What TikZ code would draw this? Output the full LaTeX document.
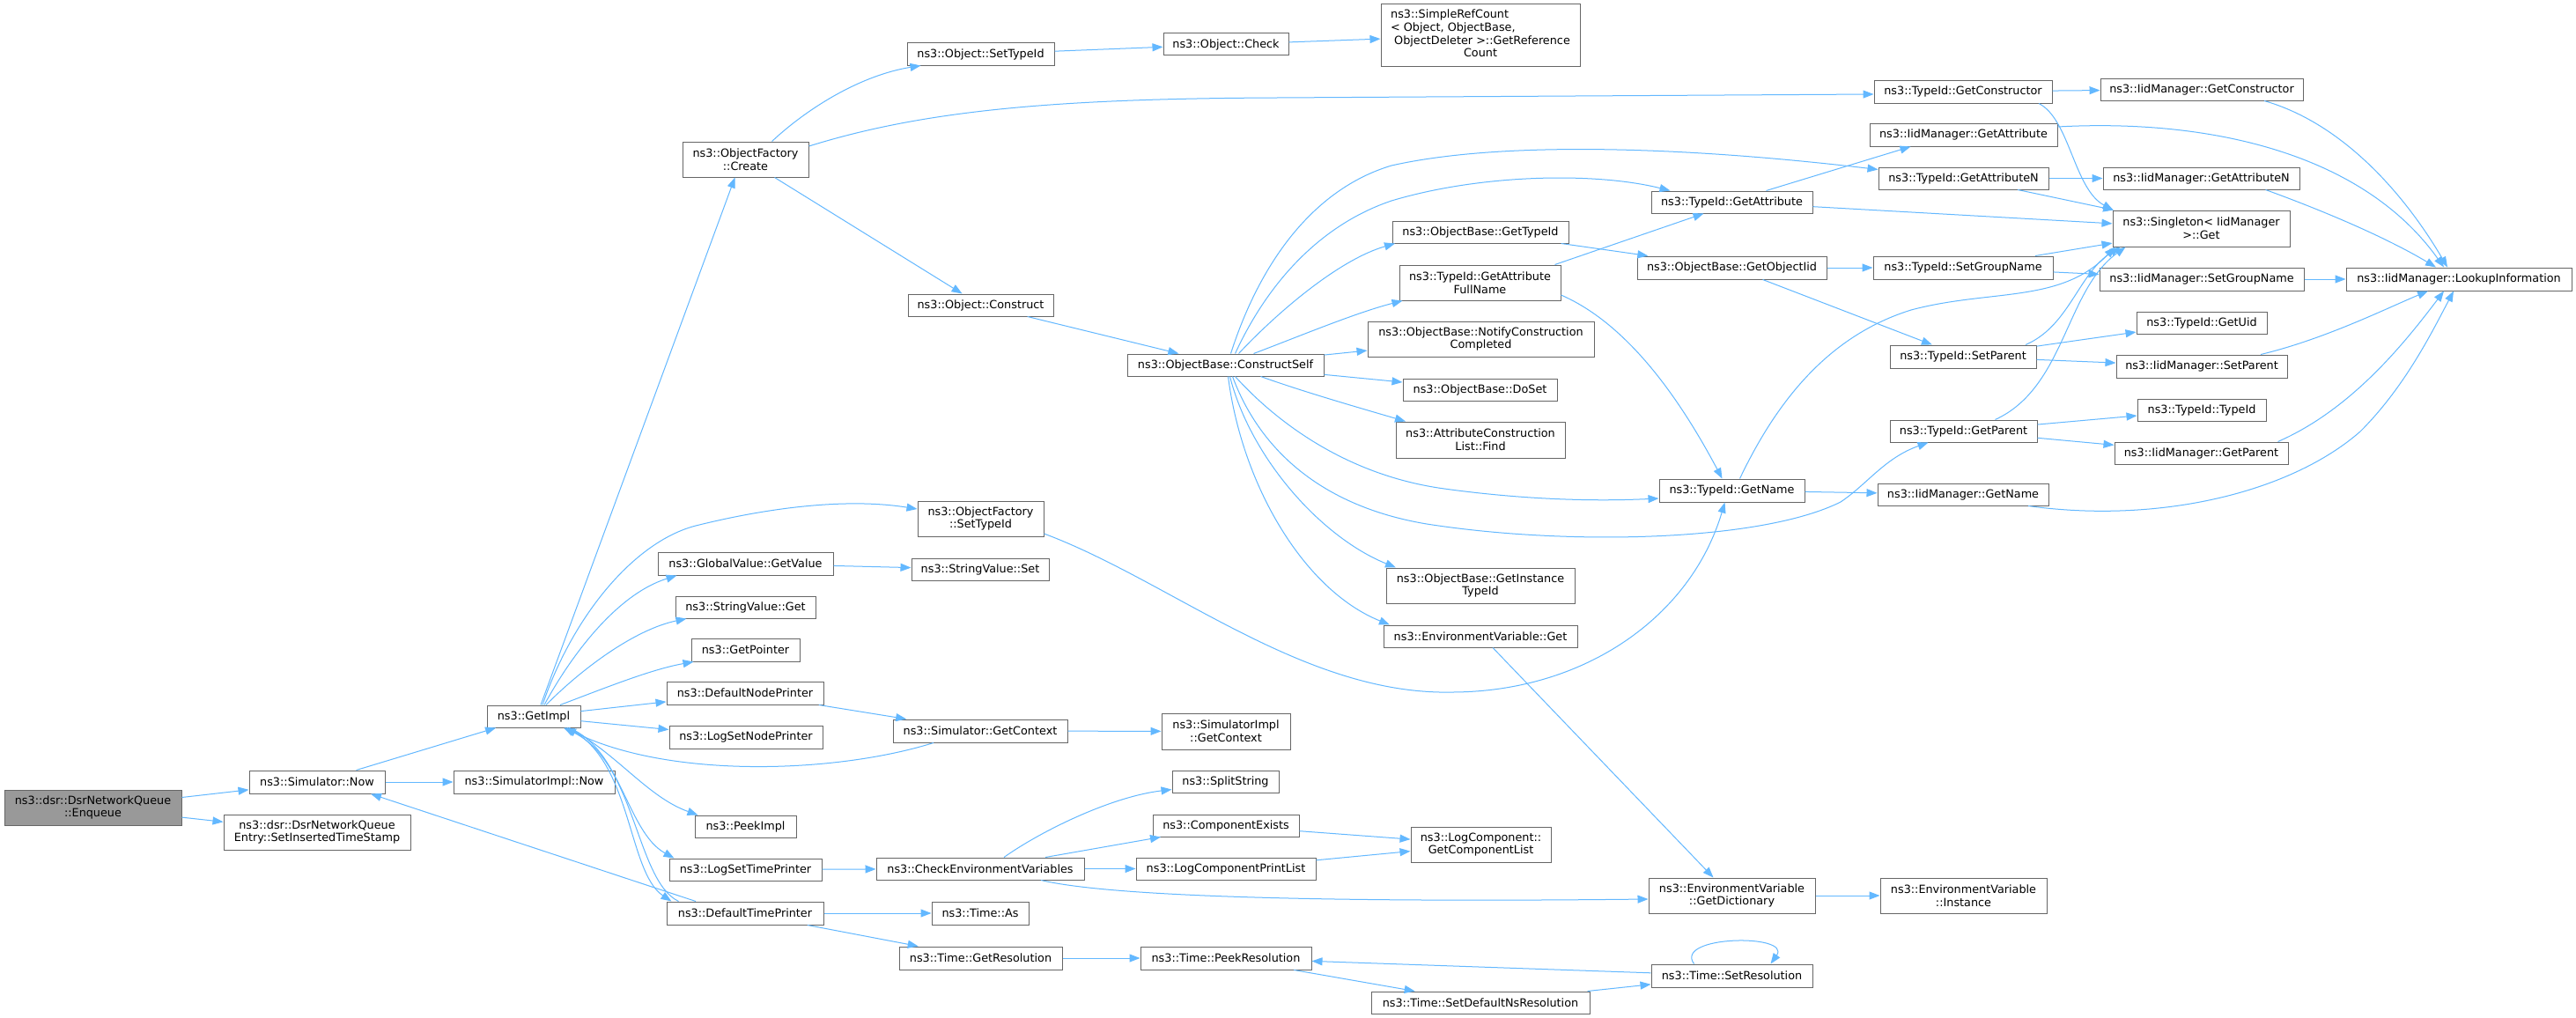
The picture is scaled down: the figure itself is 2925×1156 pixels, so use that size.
\documentclass[tikz,border=0pt]{standalone}
\usepackage{fontspec}
\setmainfont{DejaVu Sans}
\usetikzlibrary{arrows.meta}
\definecolor{edgec}{HTML}{63B8FF}
\definecolor{nodeb}{HTML}{666666}
\definecolor{rootf}{HTML}{999999}
\newcommand\mynd[6]{\node[box,minimum width={(#4)-(#2)},minimum height={(#5)-(#3)}] (#1) at ({((#2)+(#4))/2},{((#3)+(#5))/2}) {#6};}
\begin{document}
\begin{tikzpicture}[x=1pt,y=-1pt,
  box/.style={draw=nodeb, fill=white, line width=1pt, inner sep=0pt, align=center, font=\fontsize{12.8}{14.7}\selectfont},
  cg/.style={draw=edgec, line width=1pt, -{Triangle[length=12pt,width=9pt]}}]
\fill[white] (0,0) rectangle (2925,1156);
\useasboundingbox (0,0) rectangle (2925,1156);
% nodes
\node[box,fill=rootf,minimum width=201,minimum height=40] (enq) at (105.5,917) {ns3::dsr::DsrNetworkQueue\\::Enqueue};
\mynd{simnow}{283}{875}{437}{901}{ns3::Simulator::Now}
\mynd{sit}{254}{925}{466}{965}{ns3::dsr::DsrNetworkQueue\\Entry::SetInsertedTimeStamp}
\mynd{getimpl}{553}{801}{659}{826}{ns3::GetImpl}
\mynd{simimplnow}{515}{875}{698}{901}{ns3::SimulatorImpl::Now}
\mynd{create}{775}{161}{918}{201}{ns3::ObjectFactory\\::Create}
\mynd{objsettypeid}{1030}{49}{1197}{74}{ns3::Object::SetTypeId}
\mynd{objcheck}{1321}{38}{1463}{63}{ns3::Object::Check}
\mynd{simpleref}{1568}{5}{1794}{75}{\begin{tabular}{@{}l@{}}ns3::SimpleRefCount\\< Object, ObjectBase,\\\ ObjectDeleter >::GetReference\\\multicolumn{1}{@{}c@{}}{Count}\end{tabular}}
\mynd{objconstruct}{1031}{334}{1196}{359}{ns3::Object::Construct}
\mynd{cself}{1280}{402}{1503}{427}{ns3::ObjectBase::ConstructSelf}
\mynd{ofsettypeid}{1042}{569}{1185}{609}{ns3::ObjectFactory\\::SetTypeId}
\mynd{gvget}{747}{627}{946}{653}{ns3::GlobalValue::GetValue}
\mynd{svset}{1035}{634}{1191}{659}{ns3::StringValue::Set}
\mynd{svget}{767}{677}{926}{702}{ns3::StringValue::Get}
\mynd{getptr}{785}{725}{908}{751}{ns3::GetPointer}
\mynd{dnp}{757}{774}{935}{800}{ns3::DefaultNodePrinter}
\mynd{lsnp}{760}{824}{934}{850}{ns3::LogSetNodePrinter}
\mynd{simgetctx}{1014}{817}{1212}{843}{ns3::Simulator::GetContext}
\mynd{simimplctx}{1319}{810}{1465}{851}{ns3::SimulatorImpl\\::GetContext}
\mynd{split}{1331}{875}{1452}{900}{ns3::SplitString}
\mynd{compex}{1309}{925}{1475}{950}{ns3::ComponentExists}
\mynd{peekimpl}{789}{926}{904}{951}{ns3::PeekImpl}
\mynd{lstp}{760}{975}{933}{1000}{ns3::LogSetTimePrinter}
\mynd{cev}{995}{974}{1231}{999}{ns3::CheckEnvironmentVariables}
\mynd{lcpl}{1290}{974}{1494}{999}{ns3::LogComponentPrintList}
\mynd{dtp}{757}{1024}{935}{1050}{ns3::DefaultTimePrinter}
\mynd{timeas}{1058}{1024}{1168}{1050}{ns3::Time::As}
\mynd{timegetres}{1021}{1075}{1206}{1101}{ns3::Time::GetResolution}
\mynd{peekres}{1295}{1075}{1489}{1101}{ns3::Time::PeekResolution}
\mynd{lcgcl}{1602}{939}{1761}{979}{ns3::LogComponent::\\GetComponentList}
\mynd{evgd}{1872}{997}{2061}{1037}{ns3::EnvironmentVariable\\::GetDictionary}
\mynd{evinst}{2135}{997}{2324}{1037}{ns3::EnvironmentVariable\\::Instance}
\mynd{setres}{1875}{1095}{2058}{1121}{ns3::Time::SetResolution}
\mynd{setdefns}{1557}{1126}{1805}{1151}{ns3::Time::SetDefaultNsResolution}
\mynd{tgetctor}{2128}{91}{2330}{117}{ns3::TypeId::GetConstructor}
\mynd{igetctor}{2385}{89}{2615}{114}{ns3::IidManager::GetConstructor}
\mynd{igetattr}{2123}{140}{2336}{166}{ns3::IidManager::GetAttribute}
\mynd{tgetattrn}{2133}{190}{2326}{215}{ns3::TypeId::GetAttributeN}
\mynd{igetattrn}{2388}{190}{2611}{215}{ns3::IidManager::GetAttributeN}
\mynd{singleton}{2399}{239}{2600}{280}{ns3::Singleton< IidManager\\>::Get}
\mynd{tsetgn}{2127}{291}{2331}{317}{ns3::TypeId::SetGroupName}
\mynd{isetgn}{2384}{304}{2616}{330}{ns3::IidManager::SetGroupName}
\mynd{lookup}{2664}{304}{2920}{330}{ns3::IidManager::LookupInformation}
\mynd{tgetuid}{2426}{354}{2574}{379}{ns3::TypeId::GetUid}
\mynd{tsetparent}{2146}{392}{2312}{418}{ns3::TypeId::SetParent}
\mynd{isetparent}{2403}{403}{2597}{429}{ns3::IidManager::SetParent}
\mynd{ttypeid}{2427}{453}{2573}{478}{ns3::TypeId::TypeId}
\mynd{tgetparent}{2146}{477}{2313}{502}{ns3::TypeId::GetParent}
\mynd{igetparent}{2401}{502}{2598}{527}{ns3::IidManager::GetParent}
\mynd{igetname}{2132}{549}{2326}{574}{ns3::IidManager::GetName}
\mynd{tgetattr}{1875}{217}{2058}{242}{ns3::TypeId::GetAttribute}
\mynd{obgettypeid}{1581}{251}{1781}{276}{ns3::ObjectBase::GetTypeId}
\mynd{obgetoiid}{1859}{291}{2074}{317}{ns3::ObjectBase::GetObjectIid}
\mynd{tgafn}{1589}{301}{1772}{341}{ns3::TypeId::GetAttribute\\FullName}
\mynd{notify}{1553}{365}{1810}{405}{ns3::ObjectBase::NotifyConstruction\\Completed}
\mynd{doset}{1593}{430}{1768}{455}{ns3::ObjectBase::DoSet}
\mynd{acfind}{1585}{479}{1777}{520}{ns3::AttributeConstruction\\List::Find}
\mynd{tgetname}{1884}{544}{2049}{570}{ns3::TypeId::GetName}
\mynd{obgit}{1574}{645}{1788}{685}{ns3::ObjectBase::GetInstance\\TypeId}
\mynd{evget}{1571}{710}{1791}{735}{ns3::EnvironmentVariable::Get}
% edges: left part
\draw[cg] (enq) -- (simnow);
\draw[cg] (enq) -- (sit);
\draw[cg] (simnow) -- (getimpl);
\draw[cg] (simnow) -- (simimplnow);
\draw[cg] ([xshift=8pt]getimpl.north) -- ([xshift=-12pt]create.south);
\draw[cg] ([xshift=10pt]getimpl.north) .. controls (650,700) and (720,615) .. (790,597) .. controls (870,577) and (960,565) .. ([yshift=11pt]ofsettypeid.west);
\draw[cg] ([xshift=12pt]getimpl.north) .. controls (648,745) and (700,675) .. ([xshift=22pt]gvget.south west);
\draw[cg] ([xshift=14pt]getimpl.north) .. controls (660,760) and (720,715) .. ([xshift=13pt]svget.south west);
\draw[cg] ([xshift=30pt]getimpl.north) .. controls (690,780) and (740,760) .. ([xshift=3pt]getptr.south west);
\draw[cg] (getimpl) -- (dnp);
\draw[cg] (getimpl) -- (lsnp);
\draw[cg] ([xshift=40pt]getimpl.south) .. controls (700,855) and (735,905) .. ([xshift=4pt]peekimpl.north west);
\draw[cg] ([xshift=40pt]getimpl.south) .. controls (705,850) and (712,945) .. ([xshift=6pt]lstp.north west);
\draw[cg] ([xshift=38pt]getimpl.south) .. controls (718,860) and (712,990) .. ([xshift=6pt]dtp.north west);
\draw[cg] ([xshift=14pt]dtp.north west) .. controls (722,1000) and (722,865) .. ([xshift=34pt]getimpl.south);
\draw[cg] ([xshift=-53pt]simgetctx.south) .. controls (950,878) and (760,885) .. ([xshift=36pt]getimpl.south);
\draw[cg] ([xshift=-56pt]dtp.north) -- ([xshift=61pt]simnow.south);
\draw[cg] (gvget) -- (svset);
\draw[cg] (dnp) -- (simgetctx);
\draw[cg] (simgetctx) -- (simimplctx);
\draw[cg] (lstp) -- (cev);
\draw[cg] ([xshift=27pt]cev.north) .. controls (1180,945) and (1260,905) .. ([yshift=-9pt]split.west);
\draw[cg] (cev) -- (compex);
\draw[cg] (cev) -- (lcpl);
\draw[cg] ([xshift=69pt]cev.south) .. controls (1260,1018) and (1500,1025) .. ([yshift=-4pt]evgd.west);
\draw[cg] (compex) -- (lcgcl);
\draw[cg] (lcpl) -- (lcgcl);
\draw[cg] (evgd) -- (evinst);
\draw[cg] (dtp) -- (timeas);
\draw[cg] (dtp) -- (timegetres);
\draw[cg] (timegetres) -- (peekres);
\draw[cg] (peekres) -- (setdefns);
\draw[cg] (setdefns) -- (setres);
\draw[cg] (setres) -- (peekres);
\draw[cg] ([xshift=-43pt]setres.north) .. controls (1900,1062) and (2035,1060) .. ([xshift=44pt]setres.north);
% object factory
\draw[cg] ([xshift=30pt]create.north) .. controls (920,120) and (980,85) .. ([xshift=16pt]objsettypeid.south west);
\draw[cg] ([yshift=15pt]create.east) .. controls (1050,125) and (1200,112) .. (1450,111) -- ([yshift=-3pt]tgetctor.west);
\draw[cg] (create) -- (objconstruct);
\draw[cg] (objsettypeid) -- (objcheck);
\draw[cg] (objcheck) -- (simpleref);
\draw[cg] (objconstruct) -- (cself);
% construct self
\draw[cg] ([xshift=6pt]cself.north) .. controls (1430,300) and (1490,215) .. (1580,188) .. controls (1700,161) and (1900,165) .. ([yshift=10pt]tgetattrn.west);
\draw[cg] ([xshift=11pt]cself.north) .. controls (1440,320) and (1500,255) .. (1580,228) .. controls (1680,198) and (1810,195) .. ([xshift=-70pt]tgetattr.north);
\draw[cg] ([xshift=15pt]cself.north) .. controls (1450,355) and (1520,295) .. ([xshift=-97pt]obgettypeid.south);
\draw[cg] ([xshift=32pt]cself.north) .. controls (1480,380) and (1540,355) .. ([xshift=-88pt]tgafn.south);
\draw[cg] (cself) -- (notify);
\draw[cg] (cself) -- (doset);
\draw[cg] ([xshift=40pt]cself.south) .. controls (1480,445) and (1550,465) .. ([xshift=-85pt]acfind.north);
\draw[cg] ([xshift=11pt]cself.south) .. controls (1450,480) and (1530,540) .. (1640,555) .. controls (1720,566) and (1800,570) .. ([yshift=-9pt]tgetname.west);
\draw[cg] ([xshift=8pt]cself.south) .. controls (1430,510) and (1500,575) .. (1620,595) .. controls (1780,620) and (2000,615) .. (2090,570) .. controls (2120,550) and (2140,520) .. ([xshift=-40pt]tgetparent.south);
\draw[cg] ([xshift=5pt]cself.south) .. controls (1420,520) and (1500,610) .. ([xshift=-96pt]obgit.north);
\draw[cg] ([xshift=3pt]cself.south) .. controls (1410,550) and (1480,670) .. ([xshift=-103pt]evget.north);
% middle
\draw[cg] (obgettypeid) -- (obgetoiid);
\draw[cg] ([xshift=85pt]tgafn.north) -- ([xshift=-32pt]tgetattr.south);
\draw[cg] ([yshift=-14pt]tgafn.east) .. controls (1830,360) and (1890,420) .. ([xshift=-11pt]tgetname.north);
\draw[cg] ([xshift=39pt]tgetattr.north) -- ([xshift=-60pt]igetattr.south);
\draw[cg] (tgetattr) -- (singleton);
\draw[cg] (obgetoiid) -- (tsetgn);
\draw[cg] (obgetoiid) -- (tsetparent);
\draw[cg] ([xshift=9pt]tgetname.north) .. controls (2020,450) and (2080,380) .. (2170,352) .. controls (2260,328) and (2340,345) .. ([xshift=3pt]singleton.south west);
\draw[cg] (tgetname) -- (igetname);
\draw[cg] ([yshift=-17pt]ofsettypeid.east) .. controls (1330,660) and (1480,790) .. (1650,786) .. controls (1800,785) and (1920,700) .. ([xshift=-8pt]tgetname.south);
\draw[cg] ([xshift=14pt]evget.south) -- ([xshift=-21pt]evgd.north);
% right part
\draw[cg] (tgetctor) -- (igetctor);
\draw[cg] ([xshift=86pt]tgetctor.south) .. controls (2350,135) and (2355,215) .. ([xshift=1pt]singleton.north west);
\draw[cg] ([yshift=9pt]igetattr.east) .. controls (2500,135) and (2680,170) .. ([xshift=-17pt]lookup.north);
\draw[cg] (tgetattrn) -- (igetattrn);
\draw[cg] (tgetattrn) -- (singleton);
\draw[cg] ([xshift=73pt]igetattrn.south) .. controls (2640,240) and (2710,270) .. ([xshift=-26pt]lookup.north);
\draw[cg] ([xshift=71pt]igetctor.south) .. controls (2660,140) and (2730,220) .. ([xshift=-13pt]lookup.north);
\draw[cg] (tsetgn) -- (singleton);
\draw[cg] (tsetgn) -- (isetgn);
\draw[cg] (isetgn) -- (lookup);
\draw[cg] ([xshift=71pt]tsetparent.north) .. controls (2350,370) and (2360,310) .. ([xshift=9pt]singleton.south west);
\draw[cg] (tsetparent) -- (tgetuid);
\draw[cg] (tsetparent) -- (isetparent);
\draw[cg] ([xshift=67pt]isetparent.north) .. controls (2640,385) and (2710,350) .. ([xshift=-35pt]lookup.south);
\draw[cg] ([xshift=36pt]tgetparent.north) .. controls (2345,440) and (2345,330) .. ([xshift=15pt]singleton.south west);
\draw[cg] (tgetparent) -- (ttypeid);
\draw[cg] (tgetparent) -- (igetparent);
\draw[cg] ([xshift=87pt]igetparent.north) .. controls (2670,465) and (2730,390) .. ([xshift=-17pt]lookup.south);
\draw[cg] ([xshift=74pt]igetname.south) .. controls (2450,595) and (2600,560) .. (2680,490) .. controls (2730,440) and (2760,380) .. ([xshift=-6pt]lookup.south);
\end{tikzpicture}
\end{document}
